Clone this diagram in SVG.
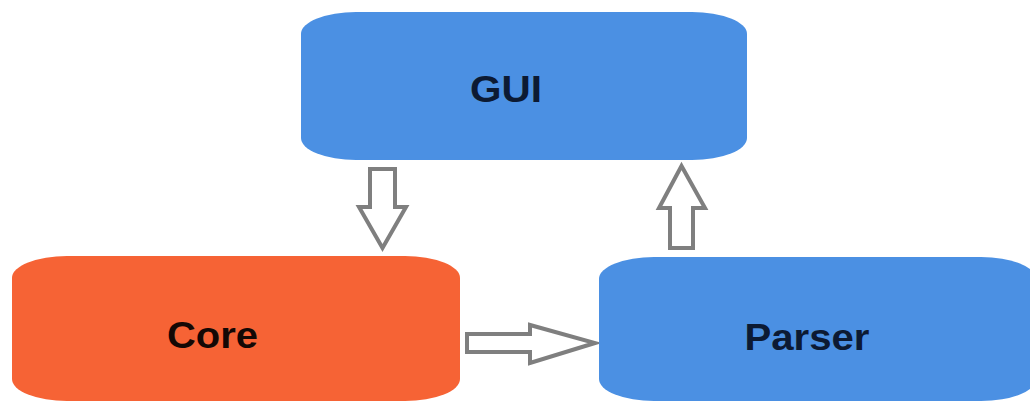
<svg xmlns="http://www.w3.org/2000/svg" width="1030" height="401" viewBox="0 0 1030 401">
  <style>
    .blue { fill: #4b90e3; }
    .orange { fill: #f66335; }
    .lbl { font-family: "Liberation Sans", Arial, sans-serif; font-weight: bold; font-size: 36px; text-anchor: middle; }
    .dark { fill: #0c1a33; }
    .blk { fill: #140805; }
    .arrow { fill: #ffffff; stroke: #7f7f7f; stroke-width: 4; stroke-linejoin: miter; }
  </style>
  <rect width="1030" height="401" fill="#ffffff"/>
  <g id="connectors">
    <polygon class="arrow" points="370,169 395,169 395,207 406,207 382.5,248 359,207 370,207"/>
    <polygon class="arrow" points="670,248 693,248 693,208 705,208 681.5,166 659,208 670,208"/>
    <polygon class="arrow" points="467,334 530,334 530,325 595,343 530,363 530,352 467,352"/>
  </g>
  <g id="node-gui">
    <rect class="blue" x="301" y="12" width="446" height="148" rx="55" ry="22"/>
    <text class="lbl dark" x="506" y="102" textLength="72" lengthAdjust="spacingAndGlyphs">GUI</text>
  </g>
  <g id="node-core">
    <rect class="orange" x="12" y="256" width="448" height="145" rx="55" ry="22"/>
    <text class="lbl blk" x="212.5" y="348" textLength="91" lengthAdjust="spacingAndGlyphs">Core</text>
  </g>
  <g id="node-parser">
    <rect class="blue" x="599" y="257" width="437" height="144" rx="55" ry="22"/>
    <text class="lbl dark" x="807" y="350" textLength="125" lengthAdjust="spacingAndGlyphs">Parser</text>
  </g>
</svg>
